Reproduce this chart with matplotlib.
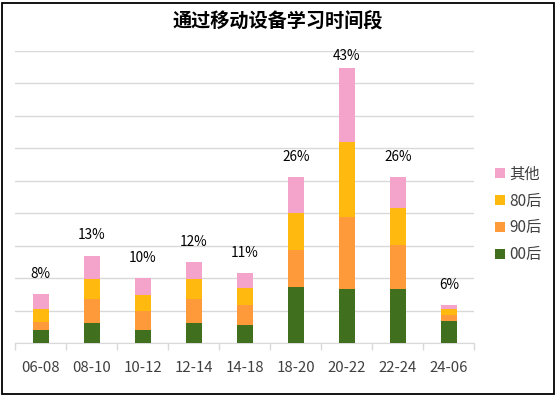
import matplotlib.pyplot as plt
import matplotlib.patches as mpatches
import numpy as np

plt.rcParams['font.family'] = ['Noto Sans CJK SC', 'DejaVu Sans']

periods = ['06-08', '08-10', '10-12', '12-14', '14-18', '18-20', '20-22', '22-24', '24-06']
s00 = [2.05, 3.2, 2.05, 3.2, 2.8, 8.65, 8.35, 8.35, 3.45]
s90 = [1.3, 3.55, 2.95, 3.55, 3.1, 5.75, 11.1, 6.75, 0.9]
s80 = [1.95, 3.2, 2.4, 3.1, 2.65, 5.6, 11.6, 5.75, 0.9]
other = [2.3, 3.55, 2.6, 2.7, 2.25, 5.65, 11.4, 4.75, 0.6]
pct_labels = ['8%', '13%', '10%', '12%', '11%', '26%', '43%', '26%', '6%']

colors = {'00后': '#406F1E', '90后': '#FF9A3A', '80后': '#FFB90F', '其他': '#F4A3CA'}

fig = plt.figure(figsize=(5.57, 3.95), dpi=100)
ax = fig.add_axes([15.3/557, 51.7/395, 459/557, 292.3/395])

x = np.arange(len(periods))
w = 0.31
bottom = np.zeros(len(periods))
series = [('00后', s00), ('90后', s90), ('80后', s80), ('其他', other)]
handles = []
for name, vals in series:
    b = ax.bar(x, vals, w, bottom=bottom, color=colors[name], label=name, zorder=3)
    handles.append(b)
    bottom += np.array(vals)

for i, tot in enumerate(bottom):
    ax.text(x[i], min(tot + 3.1, 44.3), pct_labels[i], ha='center', va='center',
            fontsize=9.8, color='black')

ax.set_xlim(-0.5, len(periods) - 0.5)
ax.set_ylim(0, 45)
ax.set_yticks(np.arange(0, 46, 5))
ax.yaxis.grid(True, color='#D9D9D9', linewidth=1, zorder=0)
ax.tick_params(axis='y', left=False, labelleft=False)
for s in ['top', 'right', 'left']:
    ax.spines[s].set_visible(False)
ax.spines['bottom'].set_color('#D9D9D9')
ax.set_xticks(x)
ax.set_xticklabels(periods, fontsize=10.8, color='#404040')
ax.tick_params(axis='x', length=0, pad=13)
ax.set_xticks(np.arange(-0.5, len(periods)), minor=True)
ax.tick_params(axis='x', which='minor', length=5, color='#D9D9D9', width=1)

fig.text(278/557, 1 - 22/395, '通过移动设备学习时间段', ha='center', va='center',
         fontsize=13.8, fontweight='bold')

fig.legend(handles[::-1], [n for n, _ in series][::-1], loc='center left',
           bbox_to_anchor=(495/557, 1 - 214.5/395), frameon=False,
           fontsize=11, handlelength=0.65, handleheight=0.65, handletextpad=0.3,
           labelspacing=0.65, borderpad=0, borderaxespad=0, labelcolor='#404040')

fig.patches.append(mpatches.Rectangle((1.5/557, 1.5/395), 552/557, 391/395,
                                      transform=fig.transFigure, fill=False,
                                      edgecolor='black', linewidth=1.3))

fig.savefig('out.png', dpi=100)
